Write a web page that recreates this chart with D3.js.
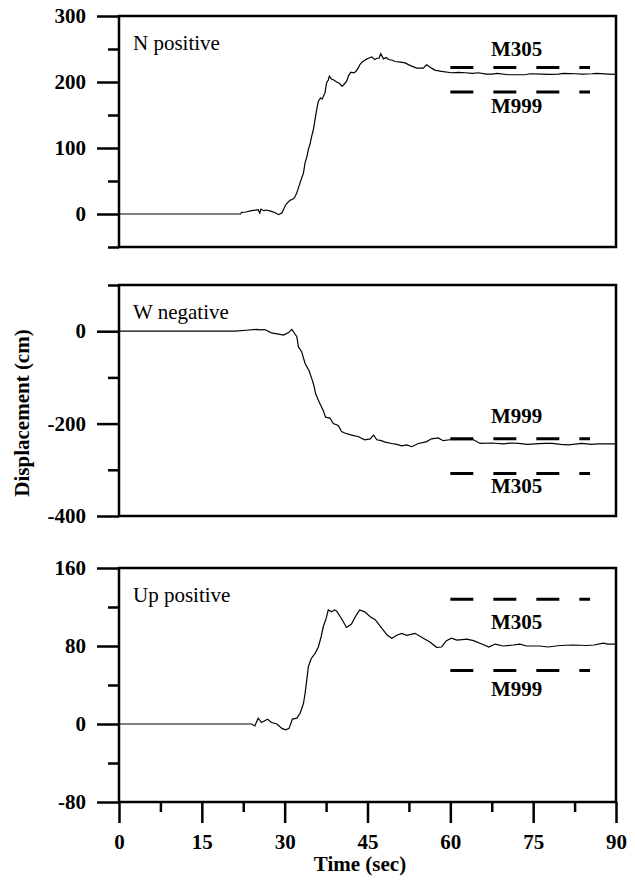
<!DOCTYPE html>
<html>
<head>
<meta charset="utf-8">
<script src="https://cdn.jsdelivr.net/npm/d3@7"></script>
<style>
  body { margin: 0; background: #fff; }
  text { font-family: "Liberation Serif", "Times New Roman", serif; }
</style>
</head>
<body>
<div id="chart"></div>
<script>
// data: [time (s), displacement (cm)]
const nPositive = [[0,0],[22,0],[22.2,2.5],[23,3],[24,5],[25.2,6.5],[25.5,1.5],[25.7,7.5],[26.2,5],[26.7,6],[27.6,4],[28.3,2],[28.9,-1],[29.5,1.5],[30.1,12.5],[30.5,17],[31,21],[31.4,22],[31.8,25],[32.2,32],[32.5,40],[33.1,55],[33.4,62],[33.7,78],[34,86],[34.3,98],[34.6,106],[34.9,118],[35.2,128],[35.5,143],[35.8,158],[36.1,171],[36.5,176],[36.8,174],[37.1,180],[37.3,183.5],[37.6,199],[37.9,203],[38.1,209],[38.5,204],[38.9,203],[39.4,200],[39.9,198],[40.4,193.5],[40.8,197],[41.2,201],[41.6,210],[42,215],[42.5,214],[42.9,216],[43.3,221],[43.6,226],[44,230],[44.5,233],[44.9,235],[45.2,236],[45.8,238],[46.3,234],[46.7,236],[47.1,236],[47.4,243],[47.9,235],[48.4,237],[48.8,234],[49.5,233],[50,231],[51,230],[51.8,229],[52.5,226],[53,224],[53.9,221],[55.1,221],[55.7,226],[56.6,221],[57.2,218],[58.4,216],[60.2,214],[61.5,214.5],[62.7,214],[64,213],[65.1,214],[66.5,212],[67.5,212],[68.5,213],[70.5,211],[72,211],[73.5,211],[74.5,212.5],[76.5,212],[78,211.5],[79.6,212],[80.5,213],[82.6,212.5],[84,212],[85.6,212.5],[86.5,213],[88.6,212],[90,211.5]];

const wNegative = [[0,0],[21,0],[23.1,2],[24.9,4],[25.5,3],[26.4,3.5],[27.6,-3.5],[28.9,-6.5],[29.8,-8.5],[30.7,-3],[31.3,4],[31.8,-5],[32.2,-12],[32.5,-34],[33.1,-45],[33.4,-58],[33.7,-70],[34.4,-85],[35,-106],[35.3,-118],[35.6,-135],[36,-147],[36.4,-157],[37,-172],[37.4,-186],[38.2,-188],[38.8,-200],[39.7,-204],[40.3,-217],[41,-221],[41.8,-224],[42.5,-226],[43.3,-228],[44.5,-235],[45.5,-233],[46.1,-225],[46.7,-235],[47.5,-237],[48.2,-240],[49.4,-243],[50.3,-245],[51.2,-248],[52.1,-246],[53,-250],[54.2,-243],[55,-241],[55.7,-239],[56.6,-233],[57.8,-231],[58.7,-237],[59.9,-235],[62,-234],[64.2,-235],[65.4,-243],[67.5,-242],[69.6,-244],[71,-242],[72.3,-243],[74,-245],[75.3,-244],[77,-243],[78.4,-243],[80,-245],[81.4,-246],[83.8,-243],[85.5,-245],[86.8,-244],[90,-244]];

const upPositive = [[0,0],[24,0],[24.6,-2],[25.2,6],[25.8,1.5],[26.9,5],[27.6,1.5],[28.6,0],[29.5,-4.5],[30.2,-6],[30.8,-4.5],[31.4,5],[32.2,6],[32.8,11],[33.4,21],[33.7,31.5],[34,45],[34.3,59],[34.8,67],[35.5,72.5],[36.1,79],[36.6,89.5],[37,100],[37.5,108],[37.9,117],[38.5,115],[39,117],[39.4,116],[40.3,108],[41.2,99],[42.1,102.5],[43,112],[43.6,117],[44.5,115],[45.5,110],[46.4,107],[47.6,98],[48.6,91],[49.4,88],[50.3,91],[51.2,93],[52.1,91],[53.6,93],[55.1,88],[56.3,84],[57.5,78.7],[58.4,79],[59.3,85.5],[60.2,88],[61.2,86],[63,87],[64.2,85.5],[65.7,82],[67,79],[68.1,82],[69.6,80],[71.4,81],[72.6,82],[73.8,80],[76.2,80],[77.7,79],[79.9,80.5],[82.3,81],[84.7,80.5],[86,81],[87.7,83],[88.5,82],[90,82]];

// reference (model) displacements
const refNames = ["M305", "M999"];
const nRefs = [222, 185];
const wRefs = [-308, -233];
const upRefs = [128, 55];

const xTicks = [0, 15, 30, 45, 60, 75, 90];
const xMinor = [7.5, 22.5, 37.5, 52.5, 67.5, 82.5];

const width = 635, height = 885;
const left = 119, right = 616;
const fs = "21px";

const svg = d3.select("#chart").append("svg")
    .attr("width", width)
    .attr("height", height);

const x = d3.scaleLinear().domain([0, 90]).range([left, right]);

const panels = [
  {title: "N positive", data: nPositive, refs: nRefs, top: 16, bottom: 247, domain: [-50, 300],
   major: [0, 100, 200, 300], minor: [-50, 50, 150, 250], labelDy: [-11, 21]},
  {title: "W negative", data: wNegative, refs: wRefs, top: 285, bottom: 516, domain: [-400, 100],
   major: [-400, -200, 0], minor: [-300, -100, 100], labelDy: [20, -16]},
  {title: "Up positive", data: upPositive, refs: upRefs, top: 568, bottom: 802, domain: [-80, 160],
   major: [-80, 0, 80, 160], minor: [-40, 40, 120], labelDy: [30, 26]}
];

const line = d3.line();

panels.forEach((p, i) => {
  const y = d3.scaleLinear().domain(p.domain).range([p.bottom, p.top]);
  const g = svg.append("g");

  // y axis, major + minor ticks
  const yMajor = g.append("g")
      .attr("transform", "translate(" + left + ",0)")
      .call(d3.axisLeft(y).tickValues(p.major).tickSize(22).tickPadding(11).tickFormat(d => String(d)));
  const yMinor = g.append("g")
      .attr("transform", "translate(" + left + ",0)")
      .call(d3.axisLeft(y).tickValues(p.minor).tickSize(11).tickFormat(""));
  [yMajor, yMinor].forEach(a => {
    a.select(".domain").remove();
    a.selectAll("line").attr("stroke", "#000").attr("stroke-width", 2.5);
  });
  yMajor.selectAll("text")
      .attr("fill", "#000")
      .style("font-size", fs)
      .style("font-weight", "bold");

  // x axis only on bottom panel
  if (i === panels.length - 1) {
    const xMaj = g.append("g")
        .attr("transform", "translate(0," + p.bottom + ")")
        .call(d3.axisBottom(x).tickValues(xTicks).tickSize(21).tickPadding(11).tickFormat(d => String(d)));
    const xMin = g.append("g")
        .attr("transform", "translate(0," + p.bottom + ")")
        .call(d3.axisBottom(x).tickValues(xMinor).tickSize(10).tickFormat(""));
    [xMaj, xMin].forEach(a => {
      a.select(".domain").remove();
      a.selectAll("line").attr("stroke", "#000").attr("stroke-width", 2.5);
    });
    xMaj.selectAll("text")
        .attr("fill", "#000")
        .style("font-size", fs)
        .style("font-weight", "bold");
  }

  // trace
  g.append("path")
      .datum(p.data)
      .attr("fill", "none")
      .attr("stroke", "#000")
      .attr("stroke-width", 1.2)
      .attr("d", line.x(d => x(d[0])).y(d => y(d[1])));

  // model reference dashes + labels
  p.refs.forEach((v, k) => {
    g.append("line")
        .attr("x1", x(60)).attr("x2", x(85.3))
        .attr("y1", y(v)).attr("y2", y(v))
        .attr("stroke", "#000")
        .attr("stroke-width", 3)
        .attr("stroke-dasharray", "23,20");
    g.append("text")
        .attr("x", x(72))
        .attr("y", y(v) + p.labelDy[k])
        .attr("text-anchor", "middle")
        .style("font-size", fs)
        .style("font-weight", "bold")
        .text(refNames[k]);
  });

  // frame
  g.append("rect")
      .attr("x", left).attr("y", p.top)
      .attr("width", right - left).attr("height", p.bottom - p.top)
      .attr("fill", "none")
      .attr("stroke", "#000")
      .attr("stroke-width", 2.5);

  g.append("text")
      .attr("x", left + 14)
      .attr("y", p.top + 34)
      .style("font-size", fs)
      .text(p.title);
});

svg.append("text")
    .attr("transform", "translate(29,413) rotate(-90)")
    .attr("text-anchor", "middle")
    .style("font-size", fs)
    .style("font-weight", "bold")
    .text("Displacement (cm)");

svg.append("text")
    .attr("x", 360)
    .attr("y", 871)
    .attr("text-anchor", "middle")
    .style("font-size", fs)
    .style("font-weight", "bold")
    .text("Time (sec)");
</script>
</body>
</html>
